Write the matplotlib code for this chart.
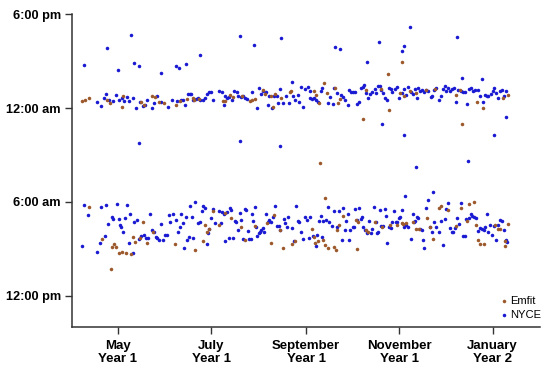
import matplotlib
matplotlib.use("Agg")
import matplotlib.pyplot as plt

# x: days since April 1, Year 1 ; y: hours relative to midnight (negative = evening before)
month_ticks = [30, 91, 153, 214, 275]
month_labels = ["May\nYear 1", "July\nYear 1", "September\nYear 1", "November\nYear 1", "January\nYear 2"]
hour_ticks = [-6, 0, 6, 12]
hour_labels = ["6:00 pm", "12:00 am", "6:00 am", "12:00 pm"]

# NYCE - bedtime band
nyce_bed_day = [16.1, 18.7, 21.1, 22.0, 24.4, 27.0, 29.0, 30.9, 32.4, 34.2, 35.9, 37.5, 40.1, 42.0, 44.2, 46.2,
                47.9, 49.2, 52.0, 53.8, 55.8, 58.1, 62.9, 65.1, 68.8, 71.4, 72.7, 74.0, 76.0, 77.1, 78.0, 79.3,
                81.0, 82.5, 83.8, 85.4, 86.9, 88.0, 89.3, 90.8, 92.1, 96.0, 98.0, 99.1, 100.2, 101.3, 102.8, 104.3,
                105.8, 107.6, 108.7, 110.2, 111.5, 112.8, 114.1, 117.8, 120.9, 122.0, 123.5, 124.8, 126.8, 128.1,
                129.0, 130.7, 132.2, 133.7, 134.6, 135.9, 138.1, 139.8, 141.6, 144.4, 145.9, 147.4, 148.7, 150.7,
                149.8, 152.2, 154.0, 155.5,
                155.7, 157.2, 158.1, 159.4, 160.9, 162.5, 163.1, 167.5, 168.8, 170.5, 171.4, 172.9, 175.7, 177.0,
                178.6, 180.1, 181.0, 182.1, 183.4, 184.9, 186.4, 187.3, 188.6, 189.9, 191.0, 192.1, 193.8, 195.1,
                196.4, 198.0, 198.8, 199.9, 201.2, 202.1, 203.4, 204.7, 206.0, 207.3, 208.2, 209.5, 211.0, 212.5,
                213.9, 215.4, 216.9, 218.2, 219.7, 221.3, 222.6, 223.9, 225.2, 226.5, 227.8, 229.1, 230.0, 231.7,
                233.0, 234.5, 235.6, 236.9, 238.2, 240.0, 241.3, 242.6, 243.9, 244.8, 246.1, 247.4, 248.7, 249.6,
                250.9, 252.6, 254.4, 255.7, 257.0, 257.9, 259.2, 260.5, 262.2, 263.5, 265.7, 266.8, 268.5, 270.0,
                271.3, 272.2, 274.0, 275.3, 276.1, 277.4, 278.8, 280.1, 281.4, 282.7, 284.0]
nyce_bed_hour = [-0.40, -0.13, -0.66, -0.89, -0.51, -0.47, -0.83, -0.49, -0.62, -0.45, -0.72, -0.45, -0.64, 0.02,
                 -0.38, -0.13, -0.17, -0.53, -0.02, -0.34, -0.74, -0.40, -0.06, -0.51, -0.45, -0.53, -0.51, -0.21,
                 -0.87, -0.91, -0.91, -0.49, -0.57, -0.66, -0.51, -0.53, -0.66, -0.87, -1.02, -1.00, -0.53, -1.06,
                 -1.04, -0.19, -0.74, -0.66, -0.70, -0.53, -1.08, -1.04, -0.79, -0.70, -0.74, -0.66, -0.55, -1.04,
                 -0.02, -1.25, -0.87, -1.08, -1.02, -0.17, -0.74, -0.02, -0.74, -0.77, -0.30, -1.19, -0.32, -0.79,
                 -0.32, -0.77, -0.53, -0.83, -0.38, -0.06, -1.34, -1.23, -1.36, -1.08,
                 -0.66, -0.55, -0.64, -0.53, -0.40, -1.08, -1.25, -0.34, -0.70, -0.28, -1.25, -0.98, -0.83, -0.70,
                 -0.53, -0.17, -1.13, -1.04, -1.00, -1.00, -0.26, -0.40, -1.30, -1.34, -1.47, -0.96, -0.66, -0.87,
                 -1.04, -1.21, -0.98, -1.40, -1.42, -1.13, -0.98, -0.66, -0.51, -1.25, -1.21, -1.04, -1.21, -1.34,
                 -0.62, -0.98, -1.19, -0.83, -1.36, -1.04, -0.87, -1.19, -0.66, -1.30, -1.08, -1.13, -1.04, -1.13,
                 -1.08, -0.72, -0.74, -1.13, -1.30, -0.53, -0.74, -1.19, -1.38, -1.08, -1.30, -1.08, -1.19, -1.30,
                 -0.40, -1.13, -1.08, -1.04, -1.00, -0.28, -1.21, -1.25, -1.08, -1.17, -1.17, -0.74, -0.38, -0.83,
                 -0.74, -0.79, -0.87, -1.08, -1.25, -0.98, -0.62, -1.08, -1.17, -0.74, -1.08]

# NYCE - wake band
nyce_wake_day = [6.3, 8.1, 10.2, 16.3, 18.3, 19.2, 21.3, 22.2, 23.3, 26.1, 27.0, 29.2, 30.5, 31.4, 31.8, 33.3,
                 34.4, 36.1, 37.0, 38.1, 39.6, 40.3, 42.2, 44.0, 45.1, 47.0, 48.6, 49.7, 51.0, 52.3, 53.6, 54.9,
                 55.8, 57.1, 58.4, 59.2, 60.5, 61.8, 63.2, 64.2, 66.2, 67.9, 69.5, 70.6, 71.4, 72.3, 73.4, 74.5,
                 75.3, 76.4, 77.3, 78.4, 79.3, 80.1, 82.3, 83.4, 84.7, 85.8, 87.1, 88.0, 88.9, 89.7, 91.0, 92.3,
                 93.7, 95.8, 97.1, 98.0, 99.3, 100.2, 101.1, 102.4, 103.2, 104.1, 105.4, 106.3, 107.2, 108.5, 109.5,
                 110.6, 111.9, 112.8, 113.7, 114.8, 115.9, 117.0, 117.4, 118.3, 119.3, 120.0, 121.1, 122.0, 122.8,
                 123.7, 124.6, 125.4, 127.0, 127.8, 128.9, 130.2, 131.1, 132.4, 133.7, 135.0, 135.9, 138.3, 139.2,
                 140.3, 141.3, 143.5, 145.0, 146.4, 147.7, 148.5, 149.8, 151.1, 152.2, 153.3, 154.6, 155.5,
                 157.7, 159.4, 160.3, 161.4, 162.5, 163.3, 164.2, 165.7, 167.2, 168.3, 169.9, 171.2, 172.9, 174.2,
                 176.2, 177.3, 178.6, 179.4, 180.1, 181.2, 182.0, 183.4, 184.2, 185.3, 186.4, 187.3, 188.6, 189.5,
                 190.3, 191.6, 192.9, 194.3, 195.3, 196.4, 197.3, 198.6, 199.5, 200.3, 201.2, 202.3, 203.4, 204.3,
                 205.1, 206.2, 207.3, 208.2, 209.5, 210.4, 211.7, 212.5, 213.6, 214.7, 216.0, 216.9, 218.2, 219.5,
                 221.3, 222.6, 223.4, 224.3, 225.6, 226.5, 227.8, 228.7, 229.5, 230.4, 231.7, 233.9, 235.2, 236.9,
                 238.2, 239.6, 241.3, 242.4, 243.5, 244.3, 246.1, 247.4, 248.3, 249.1, 250.4, 251.8, 253.1, 254.4,
                 255.7, 257.0, 257.8, 259.2, 260.5, 261.8, 263.1, 264.0, 265.3, 266.6, 267.9, 269.2, 270.1, 271.1,
                 272.2, 273.5, 274.8, 275.7, 277.2, 278.8, 280.1, 281.0, 282.2, 283.5, 284.4]
nyce_wake_hour = [8.82, 6.19, 6.82, 9.18, 8.63, 6.34, 8.18, 6.19, 7.42, 6.95, 7.06, 6.10, 7.12, 7.48, 7.57, 7.89,
                  7.02, 6.19, 8.61, 6.80, 9.29, 7.25, 7.16, 8.40, 8.18, 8.14, 8.31, 8.31, 6.74, 7.80, 7.91, 8.23,
                  8.31, 8.42, 7.38, 8.42, 8.12, 8.14, 6.82, 7.25, 6.76, 7.16, 7.89, 7.57, 6.78, 7.36, 8.93, 6.95,
                  8.44, 8.23, 6.25, 6.97, 8.29, 6.00, 7.33, 7.25, 6.57, 6.25, 6.36, 8.70, 7.97, 7.74, 7.02, 6.48,
                  7.33, 6.59, 7.36, 6.65, 6.80, 8.50, 6.65, 8.29, 6.36, 6.51, 8.31, 7.19, 7.31, 7.78, 6.68,
                  7.16, 8.38, 6.44, 6.53, 7.84, 8.38, 8.38, 6.74, 7.21, 6.34, 7.63, 8.18, 7.99, 7.91,
                  7.78, 7.67, 7.89, 6.76, 7.25, 7.16, 7.29, 6.99, 6.27, 7.55, 7.55, 7.78, 7.12, 7.33,
                  7.63, 6.95, 7.65, 8.48, 6.27, 7.23, 7.27, 7.89, 8.36, 6.99, 7.16, 8.31, 6.95,
                  8.16, 8.84, 8.10, 7.21, 6.89, 8.21, 7.21, 7.16, 6.31, 7.25, 7.53, 6.61, 7.63, 6.61,
                  8.42, 6.36, 7.78, 7.21, 6.80, 8.42, 7.80, 7.61, 7.63, 6.46, 7.14, 6.36, 7.06, 6.99,
                  7.57, 7.78, 7.99, 7.21, 8.01, 7.76, 6.31, 7.25, 7.97, 7.93, 6.53, 7.55, 7.53, 6.44,
                  6.93, 8.63, 7.63, 7.65, 7.31, 6.57, 7.25, 7.31, 7.04, 6.95, 6.53, 7.59, 7.46, 7.59,
                  8.38, 6.74, 7.25, 7.21, 6.99, 7.04, 7.76, 7.82, 8.44, 8.93, 6.40, 7.59, 7.89, 7.31,
                  7.63, 7.89, 7.21, 8.76, 7.10, 6.48, 6.04, 7.67, 7.91, 7.95, 7.67, 7.04, 7.42, 6.04,
                  8.16, 8.16, 7.06, 7.04, 6.78, 6.89, 6.99, 7.04, 7.84, 7.67, 7.74, 7.78, 7.57, 6.78,
                  7.95, 7.48, 8.10, 7.53, 8.42, 7.46, 7.16, 7.21, 7.80, 8.42, 8.55]

# NYCE - isolated readings
nyce_other_day = [7.8, 22.6, 38.5, 30.0, 40.7, 43.8, 57.9, 67.7, 69.9, 74.7, 83.8, 110.0, 118.7, 136.8, 144.0,
                  171.8, 174.9, 200.8, 192.7, 220.8, 216.7, 215.8, 251.7, 254.8, 267.9, 283.9, 202.9,
                  43.8, 110.0, 135.9, 217.1, 275.9, 225.0, 258.9, 218.0, 236.1, 233.0]
nyce_other_hour = [-2.78, -3.83, -4.68, -2.44, -2.91, -2.66, -2.25, -2.66, -2.53, -2.83, -3.38, -4.61, -4.04, -4.48,
                   -1.66, -3.89, -3.80, -4.21, -2.95, -5.19, -3.98, -3.63, -4.52, -1.89, -1.87, 0.60, 1.02,
                   2.23, 2.08, 2.42, 1.72, 1.72, 3.74, 3.38, 5.59, 5.34, 5.89]

# Emfit - bedtime band
emfit_bed_day = [6.3, 8.3, 11.1, 23.1, 25.0, 32.4, 33.1, 44.9, 46.8, 52.5, 54.2, 57.1, 59.9, 67.9, 70.3, 75.1,
                 78.8, 79.9, 83.0, 98.7, 100.2, 103.2, 105.0, 111.1, 116.1, 117.4, 119.8, 124.6, 126.1, 129.8,
                 131.1, 132.6, 136.8, 142.4, 143.3,
                 158.1, 159.8, 161.6, 164.6, 166.4, 171.8, 173.8, 175.1, 192.5, 202.3, 214.3, 217.1, 220.8, 224.7,
                 231.3, 237.4, 251.3, 253.5, 264.8, 281.8, 284.9]
emfit_bed_hour = [-0.45, -0.53, -0.66, -0.53, -0.32, -0.09, -0.77, -0.40, -0.21, -0.74, -0.72, -0.40, -0.30, -0.19,
                  -0.43, -0.57, -0.66, -0.53, -0.57, -0.43, -0.45, -0.81, -0.70, -0.79, -0.47, -0.49, -0.55, -1.13,
                  -0.87, -0.77, -0.06, -0.87, -0.66, -1.04, -1.08,
                  -1.08, -0.81, -0.34, -1.57, -0.98, -1.30, -0.32, -0.60, -1.13, -1.21, -0.98, -0.74, -1.08, -0.96,
                  -1.13, -1.19, -0.83, -1.15, -0.40, -0.66, -0.83]

# Emfit - wake band
emfit_wake_day = [11.3, 19.4, 25.9, 27.4, 28.5, 30.7, 32.4, 35.3, 38.3, 25.3, 39.6, 41.4, 44.4, 46.2, 48.8, 52.9,
                  67.5, 80.6, 85.4, 87.1, 88.2, 89.3, 92.3, 96.3, 100.2, 104.1, 110.2, 113.2, 119.6, 127.2, 132.0,
                  130.2, 135.9, 137.6, 143.5, 145.9,
                  156.8, 158.1, 159.0, 161.1, 164.2, 165.5, 167.2, 171.4, 172.5, 173.3, 174.7, 177.3, 185.5, 186.8,
                  186.0, 192.5, 193.8, 198.0, 202.5, 207.8, 212.5, 215.6, 216.5, 218.2, 222.6, 224.7, 226.9, 232.1,
                  233.9, 236.1, 240.0, 241.3, 246.1, 250.9, 254.4, 258.3, 259.2, 263.1, 264.4, 265.3, 266.6, 269.2,
                  276.6, 278.8, 280.1, 283.1, 283.1, 284.9]
emfit_wake_hour = [6.31, 8.36, 8.89, 8.70, 8.89, 9.25, 9.18, 9.29, 9.35, 10.29, 8.27, 8.59, 8.33, 7.31, 8.63, 7.95,
                   8.70, 9.08, 8.52, 7.48, 7.91, 7.72, 6.55, 7.46, 6.68, 7.04, 7.57, 8.44, 7.55, 7.36, 6.82,
                   8.65, 7.78, 8.95, 8.70, 8.48,
                   7.74, 8.21, 8.65, 8.50, 8.44, 8.78, 8.95, 8.91, 9.04, 7.80, 7.48, 6.93, 7.16, 7.25,
                   9.01, 7.80, 7.93, 7.25, 7.63, 7.46, 7.50, 7.36, 7.38, 7.36, 7.25, 7.76, 7.70, 7.02,
                   7.59, 8.36, 6.40, 6.25, 6.53, 7.53, 6.40, 7.21, 6.14, 6.02, 7.50, 8.46, 8.70, 8.70,
                   7.46, 7.76, 7.76, 8.48, 8.80, 7.44]

# Emfit - isolated readings
emfit_other_day = [215.8, 206.7, 206.9, 189.9, 255.0, 268.7, 162.2, 165.1]
emfit_other_hour = [-2.95, -2.17, 0.11, 0.72, 1.02, -0.02, 3.53, 5.74]

emfit_color = "#9c5a2c"
nyce_color = "#1a1ad2"

fig = plt.figure(figsize=(5.5, 3.73), dpi=100)
ax = fig.add_axes([0.131, 0.123, 0.851, 0.839])

emfit_x = emfit_bed_day + emfit_wake_day + emfit_other_day
emfit_y = emfit_bed_hour + emfit_wake_hour + emfit_other_hour
nyce_x = nyce_bed_day + nyce_wake_day + nyce_other_day
nyce_y = nyce_bed_hour + nyce_wake_hour + nyce_other_hour

ax.scatter(nyce_x, nyce_y, s=6.5, color=nyce_color, linewidths=0, label="NYCE", zorder=2)
ax.scatter(emfit_x, emfit_y, s=6.5, color=emfit_color, linewidths=0, label="Emfit", zorder=3)

ax.set_xlim(0, 306)
ax.set_ylim(14, -6)

ax.set_xticks(month_ticks)
ax.set_xticklabels(month_labels, fontsize=9.5, fontweight="bold", family="Liberation Sans", linespacing=1.2)
ax.set_yticks(hour_ticks)
ax.set_yticklabels(hour_labels, fontsize=9.2, fontweight="bold", family="Liberation Sans")

for s in ["top", "right"]:
    ax.spines[s].set_visible(False)
for s in ["left", "bottom"]:
    ax.spines[s].set_color("#333333")
    ax.spines[s].set_linewidth(1.1)
ax.tick_params(axis="both", direction="out", length=5, width=1.0, color="#333333")
ax.tick_params(axis="x", pad=4)
ax.tick_params(axis="y", pad=3)

handles, labels = ax.get_legend_handles_labels()
order = [1, 0]
leg = ax.legend([handles[i] for i in order], [labels[i] for i in order], loc="lower right",
                frameon=False, prop={"family": "Liberation Sans", "size": 8},
                handletextpad=0.0, handlelength=1.2, markerscale=1.0, borderaxespad=0.0,
                labelspacing=0.3, bbox_to_anchor=(1.012, 0.01))

fig.savefig("out.png", dpi=100)
